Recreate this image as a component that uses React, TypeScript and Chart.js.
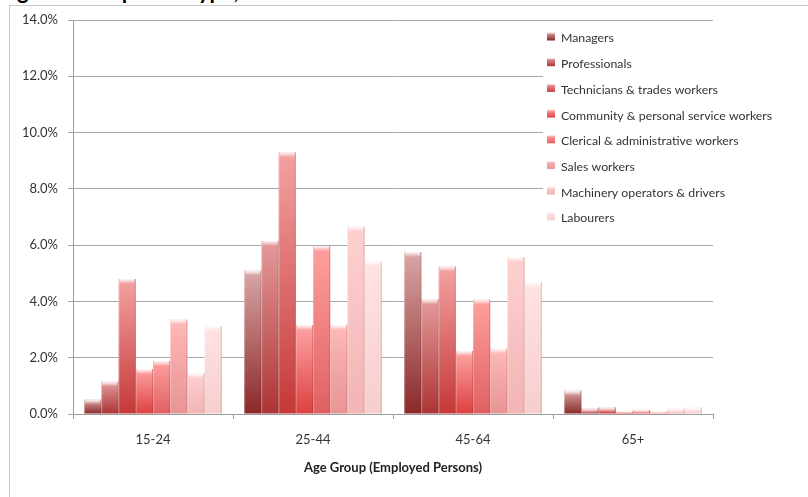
import React, { useEffect, useRef } from 'react';
import { Chart, registerables } from 'chart.js';

Chart.register(...registerables);

// ---- data ----
const categories = ['15-24', '25-44', '45-64', '65+'];
const seriesNames = [
  'Managers',
  'Professionals',
  'Technicians & trades workers',
  'Community & personal service workers',
  'Clerical & administrative workers',
  'Sales workers',
  'Machinery operators & drivers',
  'Labourers',
];
const managers = [0.52, 5.1, 5.75, 0.83];
const professionals = [1.15, 6.15, 4.07, 0.2];
const technicians = [4.8, 9.3, 5.24, 0.24];
const community = [1.6, 3.16, 2.24, 0.08];
const clerical = [1.88, 5.97, 4.07, 0.15];
const sales = [3.36, 3.16, 2.32, 0.08];
const machinery = [1.45, 6.66, 5.58, 0.19];
const labourers = [3.13, 5.42, 4.68, 0.24];
const seriesValues = [managers, professionals, technicians, community, clerical, sales, machinery, labourers];
const yMin = 0;
const yMax = 14;
const yStep = 2;
const xAxisTitle = 'Age Group (Employed Persons)';
const titleVisiblePart = 'ge of Occupation type,';

// [bottom, top] gradient colours per series
const seriesColors: [string, string][] = [
  ['#8a2828', '#d9a6a6'],
  ['#ac3434', '#e59a9a'],
  ['#c53838', '#f4a2a2'],
  ['#dc4040', '#ffa4a4'],
  ['#e06060', '#ffa0a0'],
  ['#e79494', '#ffb8b8'],
  ['#f2b4b4', '#ffd0d0'],
  ['#f7cdcd', '#ffe3e3'],
];

const FONT = 'Lato, "Open Sans", sans-serif';

const bevelPlugin = {
  id: 'bevel',
  afterDatasetsDraw(chart: any) {
    const c = chart.ctx;
    c.save();
    chart.data.datasets.forEach((_: any, di: number) => {
      const meta = chart.getDatasetMeta(di);
      meta.data.forEach((bar: any) => {
        const { x, y, base, width } = bar.getProps(['x', 'y', 'base', 'width'], true);
        const l = x - width / 2;
        const r = x + width / 2;
        const h = base - y;
        if (h <= 0) return;
        const capH = Math.min(5, h);
        const g = c.createLinearGradient(0, y, 0, y + capH);
        g.addColorStop(0, 'rgba(255,255,255,0.95)');
        g.addColorStop(1, 'rgba(255,255,255,0)');
        c.fillStyle = g;
        c.fillRect(l + 1, y, width - 2, capH);
        c.fillStyle = 'rgba(80,20,20,0.18)';
        c.fillRect(r - 1, y, 1, h);
        c.fillStyle = 'rgba(255,255,255,0.25)';
        c.fillRect(l, y, 1, h);
      });
    });
    c.restore();
  },
};

const boxLegendPlugin = {
  id: 'boxLegend',
  afterDraw(chart: any) {
    const c = chart.ctx;
    const area = chart.chartArea;
    const left = area.right - 170;
    const top = area.top + 4;
    c.save();
    c.fillStyle = '#ffffff';
    c.fillRect(left, top, area.right - left + 1, 216);
    c.font = '12.3px ' + FONT;
    c.textBaseline = 'middle';
    c.textAlign = 'left';
    chart.data.datasets.forEach((ds: any, i: number) => {
      const cy = area.top + 18.5 + i * 25.7;
      const sx = left + 4;
      const sy = cy - 6;
      const [bot, tp] = seriesColors[i];
      const g = c.createLinearGradient(0, sy + 8, 0, sy);
      g.addColorStop(0, bot);
      g.addColorStop(1, tp);
      c.fillStyle = g;
      c.fillRect(sx, sy, 8, 8);
      c.fillStyle = 'rgba(255,255,255,0.8)';
      c.fillRect(sx, sy, 8, 1);
      c.fillStyle = '#333';
      c.fillText(ds.label, left + 18, cy);
    });
    c.restore();
  },
};

export default function App() {
  const canvasRef = useRef<HTMLCanvasElement | null>(null);

  useEffect(() => {
    const canvas = canvasRef.current;
    if (!canvas) return;
    const datasets = seriesNames.map((name, i) => ({
      label: name,
      data: seriesValues[i],
      backgroundColor: (ctx: any) => {
        const [bot, tp] = seriesColors[i];
        const chart = ctx.chart;
        const ys = chart.scales && chart.scales.y;
        if (ctx.type !== 'data' || !ys) return bot;
        const base = ys.getPixelForValue(0);
        const topPx = ys.getPixelForValue(ctx.raw);
        if (!isFinite(base) || !isFinite(topPx) || base === topPx) return bot;
        const g = chart.ctx.createLinearGradient(0, base, 0, topPx);
        g.addColorStop(0, bot);
        g.addColorStop(1, tp);
        return g;
      },
      borderWidth: 0,
      categoryPercentage: 0.86,
      barPercentage: 1.0,
    }));

    const chart = new Chart(canvas, {
      type: 'bar',
      data: { labels: categories, datasets },
      options: {
        animation: false,
        responsive: false,
        devicePixelRatio: 1,
        layout: { padding: { left: 0, top: 20, right: 95, bottom: 0 } },
        plugins: {
          legend: { display: false },
          tooltip: { enabled: false },
          title: { display: false },
        },
        scales: {
          x: {
            grid: {
              offset: true,
              drawOnChartArea: false,
              drawTicks: true,
              tickLength: 5,
              color: '#9a9a9a',
            },
            border: { display: true, color: '#9a9a9a', width: 1 },
            ticks: {
              color: '#333',
              font: { family: FONT, size: 13 },
              padding: 13,
            },
            title: {
              display: true,
              text: xAxisTitle,
              color: '#222',
              font: { family: FONT, size: 13, weight: 'bold' },
              padding: { top: 0, bottom: 21 },
            },
            afterFit: (scale: any) => {
              scale.height = 83;
            },
          },
          y: {
            min: yMin,
            max: yMax,
            grid: {
              color: '#a8a8a8',
              lineWidth: 1,
              drawTicks: true,
              tickLength: 5,
            },
            border: { display: true, color: '#9a9a9a', width: 1 },
            ticks: {
              stepSize: yStep,
              color: '#333',
              font: { family: FONT, size: 13 },
              padding: 10,
              callback: (v: any) => Number(v).toFixed(1) + '%',
            },
            afterFit: (scale: any) => {
              scale.width = 73;
            },
          },
        },
      },
      plugins: [bevelPlugin, boxLegendPlugin],
    });

    return () => {
      chart.destroy();
    };
  }, []);

  return (
    <div
      style={{
        position: 'fixed',
        left: 0,
        top: 0,
        width: 808,
        height: 497,
        overflow: 'hidden',
        background: '#fff',
      }}
    >
      <div
        style={{
          position: 'absolute',
          left: 9,
          top: 5,
          width: 900,
          height: 600,
          borderLeft: '1px solid #c8c8c8',
          borderTop: '1px solid #c8c8c8',
        }}
      />
      <div
        style={{
          position: 'absolute',
          left: 17,
          top: -20,
          fontFamily: FONT,
          fontWeight: 'bold',
          fontSize: 22,
          lineHeight: '22px',
          color: '#000',
          whiteSpace: 'nowrap',
        }}
      >
        {titleVisiblePart}
      </div>
      <canvas
        ref={canvasRef}
        width={808}
        height={497}
        style={{ position: 'absolute', left: 0, top: 0, width: 808, height: 497 }}
      />
    </div>
  );
}
